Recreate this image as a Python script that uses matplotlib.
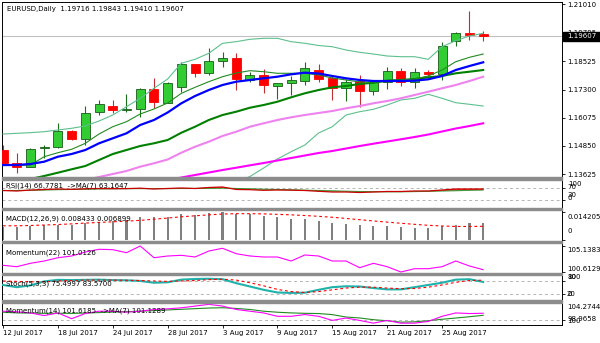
import matplotlib
matplotlib.use("Agg")
import matplotlib.pyplot as plt
from matplotlib.patches import Rectangle
import numpy as np
import pandas as pd

W, H = 600, 343
nan = np.nan

# EURUSD daily bars, 12 Jul - 30 Aug 2017
opens = [1.14676, 1.14125, 1.13951, 1.14750, 1.14794, 1.15515, 1.15154, 1.16314, 1.16601, 1.16414,
         1.16445, 1.17313, 1.16731, 1.17426, 1.18412, 1.18008, 1.18543, 1.18686, 1.17717, 1.17934,
         1.17470, 1.17574, 1.17687, 1.18152, 1.17791, 1.17357, 1.17674, 1.17239, 1.17617, 1.18121,
         1.17617, 1.18065, 1.17978, 1.19424, 1.19772, 1.19716]
highs = [1.14894, 1.14546, 1.14763, 1.14894, 1.15862, 1.15545, 1.16588, 1.16848, 1.16848, 1.17109,
         1.17357, 1.17791, 1.17630, 1.18512, 1.18430, 1.19094, 1.18921, 1.18903, 1.18078, 1.18182,
         1.17600, 1.17891, 1.18486, 1.18412, 1.17934, 1.17748, 1.17934, 1.17717, 1.18295, 1.18225,
         1.18225, 1.18152, 1.19381, 1.19815, 1.20715, 1.19843]
lows = [1.14068, 1.13690, 1.13916, 1.14329, 1.14750, 1.15111, 1.14894, 1.16197, 1.16271, 1.16340,
        1.16123, 1.16488, 1.16697, 1.17209, 1.17861, 1.17934, 1.18295, 1.17283, 1.17643, 1.17139,
        1.16879, 1.17066, 1.17500, 1.17643, 1.16848, 1.16818, 1.16560, 1.17066, 1.17313, 1.17457,
        1.17383, 1.17891, 1.17717, 1.19194, 1.19455, 1.19410]
closes = [1.14112, 1.13951, 1.14707, 1.14820, 1.15515, 1.15141, 1.16297, 1.16662, 1.16414, 1.16458,
          1.17313, 1.16749, 1.17574, 1.18399, 1.18008, 1.18543, 1.18686, 1.17748, 1.17934, 1.17500,
          1.17574, 1.17717, 1.18225, 1.17748, 1.17357, 1.17643, 1.17239, 1.17643, 1.18121, 1.17617,
          1.18052, 1.17991, 1.19207, 1.19772, 1.19685, 1.19607]

# overlays on the price window
ma_fast = [1.14024, 1.14024, 1.14068, 1.14168, 1.14385, 1.14502, 1.14676, 1.14967, 1.15184, 1.15401,
           1.15762, 1.15979, 1.16305, 1.16705, 1.17022, 1.17282, 1.17500, 1.17643, 1.17717, 1.17791,
           1.17860, 1.17964, 1.18034, 1.17999, 1.17891, 1.17791, 1.17717, 1.17673, 1.17673, 1.17673,
           1.17686, 1.17747, 1.17891, 1.18151, 1.18325, 1.18486]
ma_env = [1.14000, 1.14010, 1.14024, 1.14385, 1.14559, 1.14706, 1.14967, 1.15371, 1.15688, 1.15905,
          1.16240, 1.16457, 1.16718, 1.17139, 1.17400, 1.17643, 1.17860, 1.18021, 1.18121, 1.18077,
          1.18008, 1.18008, 1.18008, 1.17934, 1.17804, 1.17717, 1.17630, 1.17630, 1.17695, 1.17717,
          1.17760, 1.17891, 1.18151, 1.18512, 1.18703, 1.18846]
bb_mid = [1.13156, 1.13286, 1.13416, 1.13547, 1.13690, 1.13838, 1.13981, 1.14242, 1.14502, 1.14676,
          1.14850, 1.14967, 1.15110, 1.15427, 1.15688, 1.15979, 1.16196, 1.16340, 1.16513, 1.16631,
          1.16774, 1.16965, 1.17139, 1.17282, 1.17400, 1.17456, 1.17543, 1.17599, 1.17686, 1.17717,
          1.17760, 1.17834, 1.17891, 1.18008, 1.18077, 1.18151]
bb_upper = [1.15371, 1.15401, 1.15428, 1.15471, 1.15545, 1.15619, 1.15719, 1.15936, 1.16196, 1.16557,
            1.16922, 1.17356, 1.17760, 1.18442, 1.18616, 1.18877, 1.19311, 1.19381, 1.19485, 1.19528,
            1.19528, 1.19381, 1.19311, 1.19215, 1.19163, 1.19020, 1.18920, 1.18846, 1.18759, 1.18729,
            1.18729, 1.18616, 1.19163, 1.19424, 1.19628, 1.19745]
bb_lower = [nan] * 16 + [1.13069, 1.13286, 1.13525, 1.13894, 1.14285, 1.14602, 1.14893, 1.15414,
                         1.15688, 1.16196, 1.16340, 1.16444, 1.16631, 1.16848, 1.16922, 1.17096,
                         1.16922, 1.16731, 1.16661, 1.16587]
ma_slow = [nan] * 6 + [1.13373, 1.13503, 1.13633, 1.13764, 1.13951, 1.14098, 1.14263, 1.14559, 1.14819,
                       1.15037, 1.15284, 1.15471, 1.15688, 1.15836, 1.15979, 1.16096, 1.16196, 1.16283,
                       1.16370, 1.16487, 1.16587, 1.16705, 1.16805, 1.16922, 1.17065, 1.17209, 1.17356,
                       1.17500, 1.17673, 1.17860]
ma_long = [nan] * 12 + [1.13373, 1.13481, 1.13590, 1.13699, 1.13807, 1.13907, 1.14011, 1.14111,
                        1.14220, 1.14328, 1.14437, 1.14546, 1.14633, 1.14741, 1.14850, 1.14950,
                        1.15045, 1.15141, 1.15241, 1.15349, 1.15480, 1.15610, 1.15719, 1.15836]

# sub windows
rsi = [61.5, 59.8, 63.0, 65.0, 66.7, 65.5, 67.4, 68.4, 67.7, 68.0, 69.4, 66.7, 68.4, 70.0, 68.4, 71.8,
       73.5, 65.0, 64.3, 62.2, 63.2, 62.6, 61.5, 58.8, 56.4, 56.4, 54.7, 56.4, 58.1, 58.1, 59.8, 59.8,
       63.2, 66.7, 66.7, 66.7781]
rsi_ma = [61.5, 61.5, 62.2, 63.2, 64.3, 65.0, 66.0, 66.7, 67.4, 67.7, 68.0, 68.0, 68.0, 68.4, 68.4, 68.7,
          69.4, 68.4, 67.4, 66.0, 65.0, 63.9, 62.6, 61.5, 60.5, 59.1, 58.1, 57.4, 57.1, 57.1, 57.8, 58.8,
          59.8, 60.8, 62.2, 63.1647]
macd = [0.00630, 0.00648, 0.00682, 0.00731, 0.00779, 0.00779, 0.00862, 0.00925, 0.00959, 0.01023,
        0.01135, 0.01135, 0.01183, 0.01300, 0.01252, 0.01378, 0.014205, 0.01300, 0.01300, 0.01218,
        0.01135, 0.01057, 0.01057, 0.00974, 0.00862, 0.00794, 0.00731, 0.00682, 0.00682, 0.00648,
        0.00599, 0.00599, 0.00682, 0.00731, 0.00843, 0.008433]
macd_signal = [0.00716, 0.00716, 0.00731, 0.00755, 0.00779, 0.00813, 0.00852, 0.00886, 0.00916, 0.00950,
               0.00989, 0.01047, 0.01105, 0.01169, 0.01218, 0.01266, 0.01305, 0.01325, 0.01325, 0.01315,
               0.01291, 0.01266, 0.01232, 0.01193, 0.01144, 0.01086, 0.01023, 0.00959, 0.00901, 0.00843,
               0.00789, 0.00740, 0.00706, 0.00682, 0.00682, 0.006899]
mom22 = [101.779, 101.535, 102.127, 102.527, 103.101, 103.397, 104.093, 104.563, 104.50, 103.971,
         105.1383, 103.101, 103.397, 103.519, 103.223, 104.267, 104.737, 103.797, 103.397, 103.223,
         103.223, 102.527, 103.571, 103.397, 102.527, 102.527, 101.361, 102.127, 101.535, 100.6129,
         101.187, 101.187, 101.535, 102.527, 101.657, 101.0126]
stoch_k = [62, 52, 60, 78, 85, 84, 85, 86, 84, 83, 80, 72, 74, 86, 89, 90, 88, 70, 55, 40, 28, 26, 27,
           40, 52, 56, 55, 48, 42, 42, 52, 62, 72, 86, 88, 75.4997]
stoch_d = [80, 78, 76, 76, 80, 82, 84, 84, 84, 83, 82, 80, 78, 80, 82, 86, 88, 84, 72, 58, 42, 32, 28,
           32, 40, 48, 52, 52, 48, 45, 46, 52, 62, 74, 82, 83.57]
mom14 = [102.10, 101.95, 101.69, 101.07, 101.69, 100.34, 101.55, 102.10, 102.10, 101.86, 102.10, 102.51,
         102.66, 102.90, 103.31, 103.72, 103.31, 102.51, 102.10, 101.69, 100.90, 100.90, 101.31, 100.90,
         99.93, 100.49, 99.93, 99.28, 99.93, 99.28, 99.28, 99.69, 100.90, 101.69, 101.55, 101.6185]
mom14_ma = [101.86, 101.70, 101.66, 101.60, 101.62, 101.58, 101.66, 101.78, 101.90, 102.00, 102.10, 102.25,
            102.40, 102.55, 102.70, 102.85, 102.92, 102.75, 102.51, 102.10, 101.86, 101.70, 101.60, 101.55,
            101.30, 100.73, 100.50, 100.10, 99.85, 99.52, 99.60, 99.86, 100.20, 100.49, 100.80, 101.1289]

price_ticks = [1.13625, 1.14850, 1.16075, 1.17300, 1.18525, 1.19795, 1.21010]
date_labels = ["12 Jul 2017", "18 Jul 2017", "24 Jul 2017", "28 Jul 2017", "3 Aug 2017",
               "9 Aug 2017", "15 Aug 2017", "21 Aug 2017", "25 Aug 2017"]

days = pd.bdate_range("2017-07-12", "2017-08-30")
day_names = [f"{d.day} {d.strftime('%b %Y')}" for d in days]
x = np.arange(len(days))

FS = 5
plt.rcParams["font.family"] = "DejaVu Sans"

fig = plt.figure(figsize=(W / 100, H / 100), dpi=100)
fig.patch.set_facecolor("white")


def px(xp, yp):
    return xp / W, 1 - yp / H


def pane(top, bottom, ylim):
    ax = fig.add_axes([2 / W, 1 - bottom / H, 560 / W, (bottom - top) / H])
    ax.set_xlim(-1 / 13.72, 559 / 13.72)
    ax.set_ylim(*ylim)
    for s in ax.spines.values():
        s.set_color("black")
        s.set_linewidth(0.7)
    ax.yaxis.tick_right()
    ax.tick_params(axis="y", length=2.2, width=0.6, labelsize=FS, pad=1.6, colors="black")
    ax.set_xticks([])
    ax.set_yticks([])
    return ax


def marks(ax, levels):
    # tick marks on the right scale, the numbers are placed by hand
    ax.set_yticks(levels)
    ax.set_yticklabels([])


def level(ax, v):
    ax.axhline(v, color="#b4b4b4", lw=0.7, ls=(0, (3, 3)), zorder=1)


def label(xp, yp, s, **kw):
    fig.text(*px(xp, yp), s, fontsize=FS, va="center", ha="left", zorder=10, **kw)


# ---- price window
ax = pane(2, 176.5, (1.13525, 1.21105))
o, h, l, c = map(np.array, (opens, highs, lows, closes))
up = c >= o
ax.vlines(x, l, h, colors=np.where(up, "#1a6e1a", "#c03030"), lw=0.8, zorder=2)
ax.bar(x, np.maximum(np.abs(c - o), 0.0003), bottom=np.minimum(o, c), width=0.66,
       color=np.where(up, "#32cd32", "#ff0000"), edgecolor=np.where(up, "#1a5a1a", "#ff0000"),
       lw=0.6, zorder=3)
ax.axhline(closes[-1], color="#c0c0c0", lw=0.8, zorder=1)
ax.plot(x, bb_upper, color="#5cc08e", lw=0.8, zorder=4)
ax.plot(x, bb_lower, color="#5cc08e", lw=0.8, zorder=4)
ax.plot(x, ma_long, color="#ff00ff", lw=1.5, zorder=4)
ax.plot(x, ma_slow, color="#ee82ee", lw=1.5, zorder=4)
ax.plot(x, bb_mid, color="#008000", lw=1.5, zorder=4)
ax.plot(x, ma_env, color="#228b22", lw=0.8, zorder=4)
ax.plot(x, ma_fast, color="#0000ff", lw=1.6, zorder=5)
ax.set_yticks(price_ticks)
ax.set_yticklabels([f"{t:.5f}" for t in price_ticks])
label(7, 9, "EURUSD,Daily  " + " ".join(f"{v:.5f}" for v in
      (opens[-1], highs[-1], lows[-1], closes[-1])))
fig.patches.append(Rectangle(px(563, 40.5), 37 / W, 9 / H, transform=fig.transFigure,
                             color="black", zorder=9))
label(567, 36.2, f"{closes[-1]:.5f}", color="white")

# ---- RSI
ax = pane(179.5, 207.5, (3.4, 99.1))
level(ax, 70)
level(ax, 30)
r, m = np.array(rsi), np.array(rsi_ma)
ax.fill_between(x, r, m, where=r >= m, color="#ff3030", lw=0, interpolate=True, zorder=2)
ax.fill_between(x, r, m, where=r < m, color="#90e090", lw=0, interpolate=True, zorder=2)
ax.plot(x, rsi_ma, color="#3a9a3a", lw=0.8, zorder=3)
ax.plot(x, rsi, color="#cc0000", lw=0.9, zorder=3)
marks(ax, [70, 30])
label(6, 186, f"RSI(14) {rsi[-1]:.4f}  ->MA(7) {rsi_ma[-1]:.4f}")
label(568, 183.8, "100")
label(567, 186.8, "70")
label(567, 194.6, "30")
label(567, 198, "0")

# ---- MACD
ax = pane(210, 240.5, (-0.00024, 0.0151))
ax.bar(x, macd, width=0.15, color="#808080", zorder=2)
ax.plot(x, macd_signal, color="#ff0000", lw=0.8, ls=(0, (2.5, 2.5)), zorder=3)
marks(ax, [max(macd), 0])
label(6, 218.3, f"MACD(12,26,9) {macd[-1]:.6f} {macd_signal[-1]:.6f}")
label(567, 216.8, f"{max(macd):.6f}")
label(567, 231.2, "0")

# ---- Momentum(22)
ax = pane(243, 272.5, (100.526, 105.659))
ax.plot(x, mom22, color="#ff00ff", lw=0.8, zorder=3)
marks(ax, [max(mom22), min(mom22)])
label(6, 252.3, f"Momentum(22) {mom22[-1]:.4f}")
label(567, 250, f"{max(mom22):.4f}")
label(567, 269, f"{min(mom22):.4f}")

# ---- Stochastic
ax = pane(274.5, 300, (-5.9, 109.2))
level(ax, 80)
level(ax, 20)
ax.plot(x, stoch_k, color="#20b2aa", lw=1.5, zorder=3)
ax.plot(x, stoch_d, color="#ff0000", lw=0.8, ls=(0, (2.5, 2.5)), zorder=4)
marks(ax, [80, 20])
label(6, 283.3, f"Stoch(5,3,3) {stoch_k[-1]:.4f} {stoch_d[-1]:.4f}")
for s in ("100", "80"):
    label(567, 276.8, s)
for s in ("20", "0"):
    label(567, 294.2, s)

# ---- Momentum(14)
ax = pane(302.5, 324.5, (98.9658, 104.154))
level(ax, 100)
ax.plot(x, mom14_ma, color="#228b22", lw=0.8, zorder=3)
ax.plot(x, mom14, color="#ff00ff", lw=0.8, zorder=3)
marks(ax, [100])
label(6, 310.3, f"Momentum(14) {mom14[-1]:.4f}  ->MA(7) {mom14_ma[-1]:.4f}")
label(567, 307.3, "104.2744")
label(567, 319, "98.9658")
label(567, 321.2, "100")

ticks = [day_names.index(d) for d in date_labels]
ax.set_xticks(ticks)
ax.set_xticklabels(date_labels, ha="left")
ax.tick_params(axis="x", length=2.2, width=0.6, labelsize=FS, pad=1.8, direction="out")

# gray splitters between windows
for top, h_px in ((176.5, 3), (207.5, 2.5), (240.5, 2.5), (272.5, 2), (300, 2.5)):
    fig.patches.append(Rectangle(px(2, top + h_px), 560 / W, h_px / H, transform=fig.transFigure,
                                 color="#8c8c8c", zorder=8))

fig.savefig("out.png", dpi=100, facecolor="white")
